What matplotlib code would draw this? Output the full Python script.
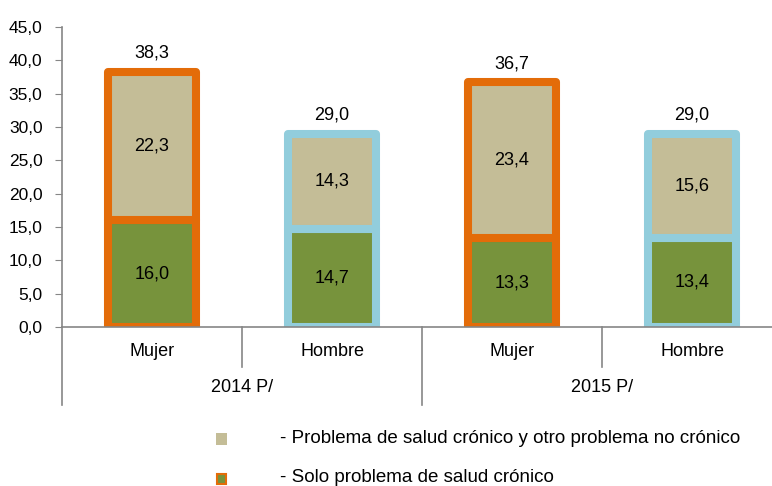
import matplotlib
matplotlib.use('Agg')
import matplotlib.pyplot as plt
from matplotlib.patches import Rectangle
from matplotlib.ticker import FuncFormatter

plt.rcParams['font.family'] = ['Liberation Sans', 'DejaVu Sans']

# Data
categories = ['Mujer', 'Hombre', 'Mujer', 'Hombre']
years = ['2014 P/', '2015 P/']
solo_cronico = [16.0, 14.7, 13.3, 13.4]
cronico_y_otro = [22.3, 14.3, 23.4, 15.6]
totales = [38.3, 29.0, 36.7, 29.0]
legend_labels = ['- Problema de salud crónico y otro problema no crónico',
                 '- Solo problema de salud crónico']

green = '#77933C'
khaki = '#C4BD97'
orange = '#E36C09'
blue = '#92CDDC'
gray = '#868686'
edge_colors = [orange, blue, orange, blue]


def coma(v):
    return f'{v:.1f}'.replace('.', ',')


W, H = 772, 486
fig = plt.figure(figsize=(W / 100, H / 100), dpi=100)
ax = fig.add_axes([62 / W, (H - 327) / H, 720 / W, 300 / H])

x = list(range(len(categories)))
bw = 0.49
lw = 5.8
b1 = ax.bar(x, solo_cronico, width=bw, color=green, edgecolor=edge_colors, linewidth=lw)
b2 = ax.bar(x, cronico_y_otro, width=bw, bottom=solo_cronico, color=khaki,
            edgecolor=edge_colors, linewidth=lw)
for p in list(b1) + list(b2):
    p.set_joinstyle('round')

for i in x:
    ax.text(i, solo_cronico[i] / 2, coma(solo_cronico[i]), ha='center', va='center', fontsize=13)
    ax.text(i, solo_cronico[i] + cronico_y_otro[i] / 2, coma(cronico_y_otro[i]),
            ha='center', va='center', fontsize=13)
    ax.text(i, totales[i] + 2.8, coma(totales[i]), ha='center', va='center', fontsize=13)

ax.set_xlim(-0.5, 3.5)
ax.set_ylim(0, 45)
ax.set_yticks([i * 5 for i in range(10)])
ax.yaxis.set_major_formatter(FuncFormatter(lambda v, p: coma(v)))
ax.tick_params(axis='y', length=5, color=gray, labelsize=12.5, pad=9)
ax.set_xticks([])
for s in ['top', 'right']:
    ax.spines[s].set_visible(False)
for s in ['left', 'bottom']:
    ax.spines[s].set_color(gray)
    ax.spines[s].set_linewidth(1.2)

# multi-level category axis
trans = ax.get_xaxis_transform()
for i, c in enumerate(categories):
    ax.text(i, -25 / 300, c, transform=trans, ha='center', va='center', fontsize=13)
for j, y in enumerate(years):
    ax.text(2 * j + 0.5, -61 / 300, y, transform=trans, ha='center', va='center', fontsize=13)
for xs in [0.5, 2.5]:
    ax.plot([xs, xs], [0, -40 / 300], transform=trans, color=gray, lw=1.2, clip_on=False)
for xs in [-0.5, 1.5, 3.5]:
    ax.plot([xs, xs], [0, -78 / 300], transform=trans, color=gray, lw=1.2, clip_on=False)

# legend drawn by hand at the bottom
fig.patches.append(Rectangle((216 / W, 1 - 445 / H), 11 / W, 12 / H, transform=fig.transFigure,
                             facecolor=khaki, edgecolor='none'))
fig.patches.append(Rectangle((217 / W, 1 - 484 / H), 9 / W, 10 / H, transform=fig.transFigure,
                             facecolor=green, edgecolor=orange, linewidth=1.5))
fig.text(280 / W, 1 - 438 / H, legend_labels[0], ha='left', va='center', fontsize=13.5)
fig.text(280 / W, 1 - 477 / H, legend_labels[1], ha='left', va='center', fontsize=13.5)

fig.savefig('out.png', dpi=100)
